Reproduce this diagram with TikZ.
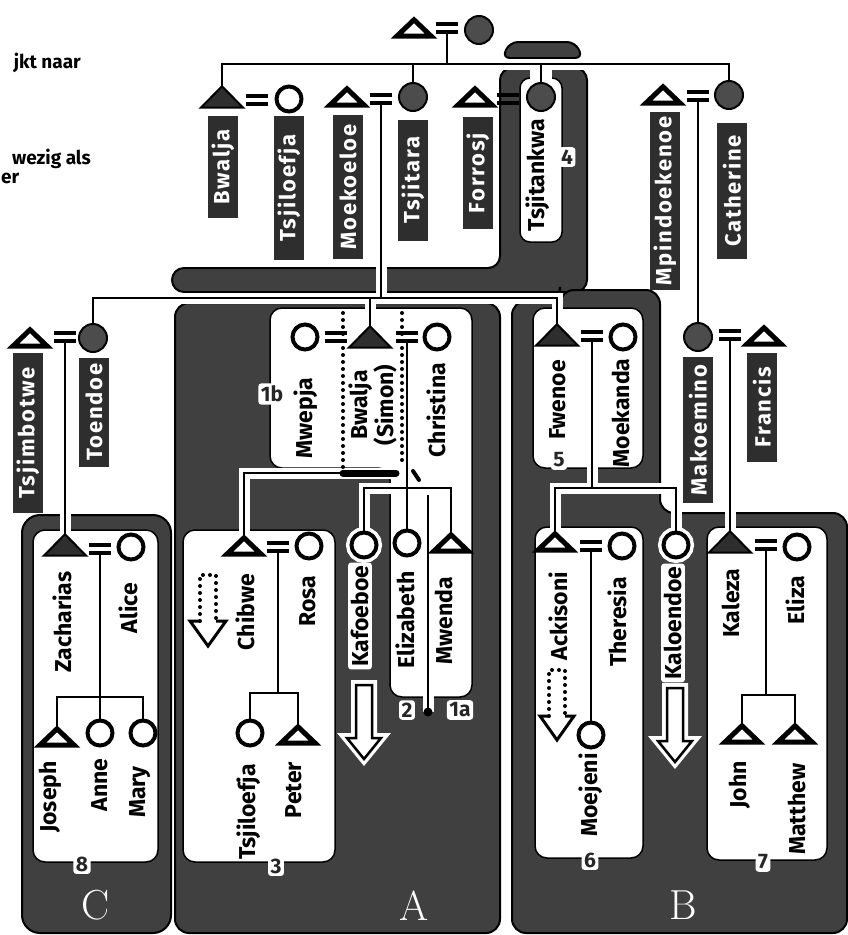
\documentclass[tikz,border=0pt]{standalone}
\usepackage{fontspec}
\setsansfont{Fira Sans}
\newfontfamily\boxfont[LetterSpace=8]{Fira Sans}
\pgfdeclarelayer{bg}
\pgfdeclarelayer{halos}
\pgfsetlayers{bg,halos,main}
\tikzset{
kin/.style={draw=black, line width=2.5pt},
halo/.style={preaction={draw=white, line width=11pt}},
region/.style={fill=black!75, draw=black, line width=2pt, rounded corners=14pt},
hole/.style={fill=white, draw=black, line width=1.5pt, rounded corners=12pt},
he/.style={inner sep=0pt, minimum width=34pt, minimum height=16pt},
hefull/.style={inner sep=0pt, minimum width=42pt, minimum height=21pt},
openman/.style={draw=black, line width=5pt, fill=white, line join=miter},
fullman/.style={draw=black, line width=2pt, fill=black!82, line join=miter},
woman/.style={circle, draw=black, line width=4pt, fill=white, inner sep=0pt, minimum size=25pt},
darkwoman/.style={circle, draw=black, line width=2pt, fill=black!70, inner sep=0pt, minimum size=28pt},
wedslot/.style={inner sep=0pt, minimum width=22pt, minimum height=8pt},
namebox/.style={fill=black!82, text=white, rotate=90, inner sep=0pt, minimum height=30pt,
  font=\boxfont\bfseries\fontsize{22}{22}\selectfont},
lbl/.style={rotate=90, inner sep=0pt, align=center, font=\sffamily\bfseries\fontsize{23}{21}\selectfont},
badge/.style={fill=white, text=black!85, rounded corners=3pt, inner sep=2.5pt,
  font=\sffamily\bfseries\fontsize{21}{21}\selectfont},
grouplet/.style={text=white, inner sep=0pt, font=\rmfamily\fontsize{42}{42}\selectfont},
dotline/.style={line width=4pt, line cap=round, dash pattern=on 0pt off 7pt},
legend/.style={inner sep=0pt, font=\sffamily\bfseries\fontsize{19}{19}\selectfont},
}
\newcommand\mantri[2]{\path[#1] (#2.south west) -- (#2.south east) -- (#2.north) -- cycle;}
\newcommand\wedbar[1]{\draw[line width=3.5pt] (#1.north west) -- (#1.north east) (#1.south west) -- (#1.south east);}
\newcommand\kinlink[1]{\begin{pgfonlayer}{halos}\draw[white, line width=11pt] #1;\end{pgfonlayer}\draw[kin] #1;}

\begin{document}
\begin{tikzpicture}[x=1pt, y=-1pt]
\useasboundingbox (0,0) rectangle (847,935);

% dark groups and their white panels
\begin{pgfonlayer}{bg}
\fill[white] (0,0) rectangle (847,935);
\path[region, rounded corners=8pt] (502,58) -- (510,42) -- (575,42) -- (583,58) -- cycle;
\path[region, rounded corners=12pt] (172,268) -- (500,268) -- (500,68) -- (587,68) -- (587,292) -- (172,292) -- cycle;
\path[hole, rounded corners=10pt] (520,78) rectangle (562,242);
\fill[white] (530,66) rectangle (552,90);
% A
\path[region] (175,303) -- (500,303) -- (500,933) -- (175,933) -- cycle;
\path[hole] (270,308) -- (472,308) -- (472,697) -- (390,697) -- (390,468) -- (270,468) -- cycle;
\path[hole] (183,530) rectangle (335,862);
% C
\path[region, rounded corners=18pt] (22,515) -- (171,515) -- (171,933) -- (22,933) -- cycle;
\path[hole] (33,530) rectangle (158,862);
% B
\path[region] (512,301) -- (560,301) -- (560,290) -- (660,290) -- (660,513) -- (847,513) -- (847,933) -- (512,933) -- cycle;
\path[hole] (533,308) rectangle (643,468);
\path[hole] (535,527) rectangle (643,858);
\path[hole] (707,527) rectangle (827,860);
\end{pgfonlayer}

% legend remains
\node[legend, anchor=base east] (legA) at (81,68) {jkt naar};
\node[legend, anchor=base east] (legB) at (91,164) {wezig als};
\node[legend, anchor=base west] (legC) at (1,183) {er};

% generation 1
\node[he] (father) at (414,28) {}; \mantri{openman}{father}
\node[wedslot] (w0) at (447,28) {}; \wedbar{w0}
\node[darkwoman] (mother) at (479,30) {};

% generation 2
\node[hefull] (Bwalja) at (222,97) {}; \mantri{fullman}{Bwalja}
\node[wedslot] (w1) at (257,100) {}; \wedbar{w1}
\node[woman] (Tsjiloefja) at (289,99) {};
\node[he] (Moekoeloe) at (347,97) {}; \mantri{openman}{Moekoeloe}
\node[wedslot] (w2) at (381,99) {}; \wedbar{w2}
\node[darkwoman] (Tsjitara) at (413,97) {};
\node[he] (Forrosj) at (475,97) {}; \mantri{openman}{Forrosj}
\node[wedslot] (w3) at (508,99) {}; \wedbar{w3}
\node[darkwoman] (Tsjitankwa) at (541,97) {};
\node[he] (Mpindoekenoe) at (663,95) {}; \mantri{openman}{Mpindoekenoe}
\node[wedslot] (w4) at (698,96) {}; \wedbar{w4}
\node[darkwoman] (Catherine) at (729,95) {};

% generation 3
\node[he] (Tsjimbotwe) at (30,338) {}; \mantri{openman}{Tsjimbotwe}
\node[wedslot] (w5) at (65,337) {}; \wedbar{w5}
\node[darkwoman] (Toendoe) at (93,338) {};
\node[woman] (Mwepja) at (305,337) {};
\node[wedslot] (w6) at (336,337) {}; \wedbar{w6}
\node[hefull] (Simon) at (370,337) {}; \mantri{fullman}{Simon}
\node[wedslot] (w7) at (407,337) {}; \wedbar{w7}
\node[woman] (Christina) at (437,337) {};
\node[hefull] (Fwenoe) at (557,335) {}; \mantri{fullman}{Fwenoe}
\node[wedslot] (w8) at (592,336) {}; \wedbar{w8}
\node[woman] (Moekanda) at (623,337) {};
\node[darkwoman] (Makoemino) at (698,337) {};
\node[wedslot] (w9) at (730,335) {}; \wedbar{w9}
\node[he] (Francis) at (764,336) {}; \mantri{openman}{Francis}

% generation 4
\node[hefull] (Zacharias) at (65,545) {}; \mantri{fullman}{Zacharias}
\node[wedslot] (w10) at (100,549) {}; \wedbar{w10}
\node[woman] (Alice) at (131,547) {};
\node[he] (Chibwe) at (244,546) {}; \mantri{openman}{Chibwe}
\node[wedslot] (w11) at (278,547) {}; \wedbar{w11}
\node[woman] (Rosa) at (309,546) {};
\node[woman, halo] (Kafoeboe) at (364,545) {};
\node[woman] (Elizabeth) at (407,543) {};
\node[he] (Mwenda) at (451,543) {}; \mantri{openman}{Mwenda}
\node[he] (Ackisoni) at (555,542) {}; \mantri{openman}{Ackisoni}
\node[wedslot] (w12) at (591,546) {}; \wedbar{w12}
\node[woman] (Theresia) at (622,546) {};
\node[woman, halo] (Kaloendoe) at (676,545) {};
\node[hefull] (Kaleza) at (730,542) {}; \mantri{fullman}{Kaleza}
\node[wedslot] (w13) at (766,545) {}; \wedbar{w13}
\node[woman] (Eliza) at (797,547) {};

% generation 5
\node[he] (Joseph) at (57,737) {}; \mantri{openman}{Joseph}
\node[woman] (Anne) at (100,733) {};
\node[woman] (Mary) at (143,733) {};
\node[woman] (TsjiloefjaJr) at (250,733) {};
\node[he] (Peter) at (298,735) {}; \mantri{openman}{Peter}
\node[woman] (Moejeni) at (591,735) {};
\node[he] (John) at (742,734) {}; \mantri{openman}{John}
\node[he] (Matthew) at (795,734) {}; \mantri{openman}{Matthew}

% descent lines
\coordinate (sibTop) at (447,64);
\coordinate (sibMid) at (381,298);
\coordinate (kidsA) at (407,488);
\coordinate (kidsB) at (592,488);
\coordinate (kidsC) at (100,697);
\coordinate (kidsR) at (278,693);
\coordinate (kidsK) at (766,695);
\coordinate (barL) at (343,473);
\coordinate (barR) at (396,473);
\coordinate (sepTop) at (428,495);
\coordinate (sepEnd) at (428,712);
\draw[kin] (w0.south) -- (sibTop);
\kinlink{(Bwalja.north) -- (Bwalja.north |- sibTop) -- (Catherine.north |- sibTop) -- (Catherine.north)}
\draw[kin] (Tsjitara.north |- sibTop) -- (Tsjitara.north);
\draw[kin] (Tsjitankwa.north |- sibTop) -- (Tsjitankwa.north);
\kinlink{(w2.south) -- (sibMid)}
\kinlink{(Toendoe.north) -- (Toendoe.north |- sibMid) -- (Fwenoe.north |- sibMid) -- (Fwenoe.north)}
\kinlink{(Simon.north |- sibMid) -- (Simon.north)}
\kinlink{(w4.south) -- (Makoemino.north)}
\kinlink{(w5.south) -- (Zacharias.north)}
\kinlink{(w9.south) -- (Kaleza.north)}
\kinlink{(barR) -- (Chibwe.north |- barR) -- (Chibwe.north)}
\draw[line width=7pt, line cap=round] (barL) -- (barR);
\draw[dotline] (343,313) -- (barL);
\draw[dotline] (402,313) -- (402,465);
\draw[line width=4pt, line cap=round] (413,471) -- (419,480);
\kinlink{(w7.south) -- (Elizabeth.north)}
\kinlink{(Kafoeboe.north) -- (Kafoeboe.north |- kidsA) -- (Mwenda.north |- kidsA) -- (Mwenda.north)}
\kinlink{(sepTop) -- (sepEnd)}
\fill (sepEnd) circle (4.5);
\kinlink{(w8.south) -- (kidsB)}
\kinlink{(Ackisoni.north) -- (Ackisoni.north |- kidsB) -- (Kaloendoe.north |- kidsB) -- (Kaloendoe.north)}
\kinlink{(w12.south) -- (Moejeni.north)}
\kinlink{(w13.south) -- (kidsK)}
\kinlink{(John.north) -- (John.north |- kidsK) -- (Matthew.north |- kidsK) -- (Matthew.north)}
\kinlink{(w10.south) -- (kidsC)}
\kinlink{(Joseph.north) -- (Joseph.north |- kidsC) -- (Mary.north |- kidsC) -- (Mary.north)}
\kinlink{(Anne.north |- kidsC) -- (Anne.north)}
\kinlink{(w11.south) -- (kidsR)}
\kinlink{(TsjiloefjaJr.north) -- (TsjiloefjaJr.north |- kidsR) -- (Peter.north |- kidsR) -- (Peter.north)}

% moving out arrows
\path[fill=white] (351,680) -- (377,680) -- (377,733) -- (391,733) -- (364,766) -- (337,733) -- (351,733) -- cycle;
\draw[line width=2.5pt, fill=white] (356,685) -- (372,685) -- (372,738) -- (381,738) -- (364,759) -- (347,738) -- (356,738) -- cycle;
\path[fill=white] (662,683) -- (688,683) -- (688,736) -- (702,736) -- (675,769) -- (648,736) -- (662,736) -- cycle;
\draw[line width=2.5pt, fill=white] (667,688) -- (683,688) -- (683,741) -- (692,741) -- (675,762) -- (658,741) -- (667,741) -- cycle;
\draw[dotline] (200,621) -- (200,575) -- (216,575) -- (216,621);
\draw[line width=3pt] (200,621) -- (190,621) -- (208,646) -- (226,621) -- (216,621);
\draw[dotline] (549,716) -- (549,670) -- (565,670) -- (565,716);
\draw[line width=3pt] (549,716) -- (540,716) -- (557,740) -- (574,716) -- (565,716);

% names in dark boxes
\node[namebox, minimum width=102pt] (nBwalja) at (223,167) {Bwalja};
\node[namebox, minimum width=144pt] (nTsjiloefja) at (289,188) {Tsjiloefja};
\node[namebox, minimum width=144pt] (nMoekoeloe) at (348,187) {Moekoeloe};
\node[namebox, minimum width=121pt] (nTsjitara) at (413,180) {Tsjitara};
\node[namebox, minimum width=112pt] (nForrosj) at (478,173) {Forrosj};
\node[namebox, minimum width=178pt] (nMpindoekenoe) at (665,201) {Mpindoekenoe};
\node[namebox, minimum width=136pt] (nCatherine) at (732,191) {Catherine};
\node[namebox, minimum width=160pt] (nTsjimbotwe) at (28,433) {Tsjimbotwe};
\node[namebox, minimum width=109pt] (nToendoe) at (94,412) {Toendoe};
\node[namebox, minimum width=146pt] (nMakoemino) at (698,430) {Makoemino};
\node[namebox, minimum width=109pt] (nFrancis) at (762,407) {Francis};

% names on white
\node[lbl] (tTsjitankwa) at (538,175) {Tsjitankwa};
\node[lbl] (tMwepja) at (306,418) {Mwepja};
\node[lbl] (tSimon) at (373,405) {Bwalja\\(Simon)};
\node[lbl] (tChristina) at (436,410) {Christina};
\node[lbl] (tFwenoe) at (558,400) {Fwenoe};
\node[lbl] (tMoekanda) at (621,413) {Moekanda};
\node[lbl] (tZacharias) at (62,622) {Zacharias};
\node[lbl] (tAlice) at (128,608) {Alice};
\node[lbl] (tJoseph) at (50,797) {Joseph};
\node[lbl] (tAnne) at (100,785) {Anne};
\node[lbl] (tMary) at (140,792) {Mary};
\node[lbl] (tChibwe) at (245,612) {Chibwe};
\node[lbl] (tRosa) at (308,601) {Rosa};
\node[lbl] (tTsjiloefjaJr) at (249,812) {Tsjiloefja};
\node[lbl] (tPeter) at (294,790) {Peter};
\node[lbl, fill=white, rounded corners=3pt, inner sep=3pt] (tKafoeboe) at (360,616) {Kafoeboe};
\node[lbl] (tElizabeth) at (405,620) {Elizabeth};
\node[lbl] (tMwenda) at (444,621) {Mwenda};
\node[lbl] (tAckisoni) at (558,616) {Ackisoni};
\node[lbl] (tTheresia) at (617,622) {Theresia};
\node[lbl] (tMoejeni) at (591,795) {Moejeni};
\node[lbl, fill=white, rounded corners=3pt, inner sep=3pt] (tKaloendoe) at (673,623) {Kaloendoe};
\node[lbl] (tKaleza) at (731,603) {Kaleza};
\node[lbl] (tEliza) at (795,600) {Eliza};
\node[lbl] (tJohn) at (740,785) {John};
\node[lbl] (tMatthew) at (797,809) {Matthew};

% sub-group numbers
\node[badge] (b4) at (567,157) {4};
\node[badge] (b1b) at (272,394) {1b};
\node[badge] (b5) at (559,460) {5};
\node[badge] (b2) at (407,710) {2};
\node[badge] (b1a) at (460,710) {1a};
\node[badge] (b3) at (276,866) {3};
\node[badge] (b8) at (82,864) {8};
\node[badge] (b6) at (590,860) {6};
\node[badge] (b7) at (763,862) {7};

% group letters
\node[grouplet] (gA) at (414,906) {A};
\node[grouplet] (gB) at (683,905) {B};
\node[grouplet] (gC) at (96,905) {C};
\end{tikzpicture}
\end{document}
